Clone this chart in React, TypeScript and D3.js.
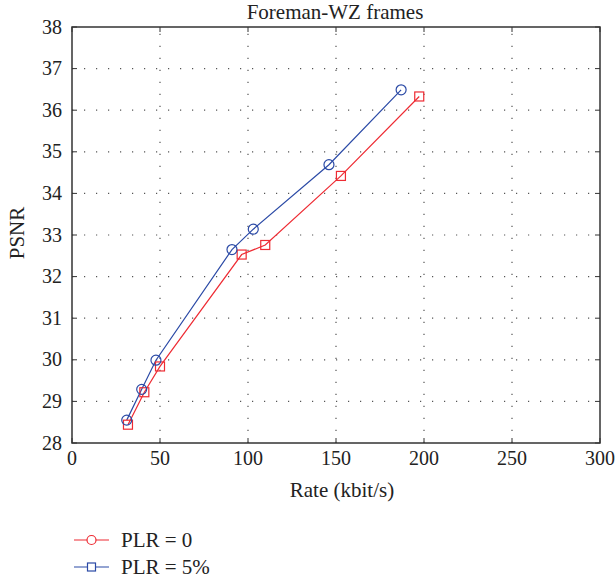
import React from "react";
import * as d3 from "d3";

const title = "Foreman-WZ frames";
const xLabel = "Rate (kbit/s)";
const yLabel = "PSNR";
const xTicks = [0, 50, 100, 150, 200, 250, 300];
const yTicks = [28, 29, 30, 31, 32, 33, 34, 35, 36, 37, 38];

// blue circles
const blueRate = [31.1, 39.6, 47.7, 90.9, 103.0, 146.0, 187.0];
const bluePsnr = [28.55, 29.29, 29.99, 32.65, 33.14, 34.69, 36.49];
// red squares
const redRate = [31.8, 41.1, 50.0, 96.4, 109.8, 152.8, 197.3];
const redPsnr = [28.44, 29.22, 29.84, 32.53, 32.76, 34.42, 36.33];

const legendLabels = ["PLR = 0", "PLR = 5%"];

const RED = "#ee2b33";
const BLUE = "#2b4aa6";
const FONT = "'Liberation Serif', serif";
const FS = 20;

export default function App() {
  const W = 616, H = 581;
  const L = 72, R = 600, T = 27, B = 443;
  const x = d3.scaleLinear().domain([0, 300]).range([L, R]);
  const y = d3.scaleLinear().domain([28, 38]).range([B, T]);
  const line = d3.line<[number, number]>().x(d => x(d[0])).y(d => y(d[1]));
  const blue: [number, number][] = blueRate.map((r, i) => [r, bluePsnr[i]]);
  const red: [number, number][] = redRate.map((r, i) => [r, redPsnr[i]]);
  const ts = { fontFamily: FONT, fontSize: FS, fill: "#222" } as React.CSSProperties;
  const tl = { fontFamily: FONT, fontSize: 21, fill: "#222" } as React.CSSProperties;

  return (
    <svg width={W} height={H} style={{ position: "absolute", left: 0, top: 0, background: "#fff", fontFamily: FONT }}>
      <rect x={0} y={0} width={W} height={H} fill="#fff" />
      {/* grid */}
      {xTicks.slice(1, -1).map(t => (
        <line key={"gx" + t} x1={x(t)} x2={x(t)} y1={B} y2={T} stroke="#555" strokeWidth={1.2} strokeDasharray="1.2,10.8" />
      ))}
      {yTicks.slice(1, -1).map(t => (
        <line key={"gy" + t} x1={L} x2={R} y1={y(t)} y2={y(t)} stroke="#555" strokeWidth={1.2} strokeDasharray="1.2,10.8" />
      ))}
      {/* ticks */}
      {xTicks.map(t => (
        <g key={"tx" + t}>
          <line x1={x(t)} x2={x(t)} y1={B} y2={B - 5} stroke="#333" strokeWidth={1} />
          <line x1={x(t)} x2={x(t)} y1={T} y2={T + 5} stroke="#333" strokeWidth={1} />
          <text x={x(t)} y={465} textAnchor="middle" style={ts}>{t}</text>
        </g>
      ))}
      {yTicks.map(t => (
        <g key={"ty" + t}>
          <line x1={L} x2={L + 5} y1={y(t)} y2={y(t)} stroke="#333" strokeWidth={1} />
          <line x1={R} x2={R - 5} y1={y(t)} y2={y(t)} stroke="#333" strokeWidth={1} />
          <text x={62} y={y(t) + 6.5} textAnchor="end" style={ts}>{t}</text>
        </g>
      ))}
      <rect x={L} y={T} width={R - L} height={B - T} fill="none" stroke="#333" strokeWidth={1.5} />
      {/* series */}
      <path d={line(red) || ""} fill="none" stroke={RED} strokeWidth={1.2} />
      <path d={line(blue) || ""} fill="none" stroke={BLUE} strokeWidth={1.2} />
      {red.map((d, i) => (
        <rect key={"r" + i} x={x(d[0]) - 4.5} y={y(d[1]) - 4.5} width={9} height={9} fill="none" stroke={RED} strokeWidth={1.2} />
      ))}
      {blue.map((d, i) => (
        <circle key={"b" + i} cx={x(d[0])} cy={y(d[1])} r={5} fill="none" stroke={BLUE} strokeWidth={1.2} />
      ))}
      {/* titles */}
      <text x={335} y={19} textAnchor="middle" style={tl}>{title}</text>
      <text x={342} y={497} textAnchor="middle" style={tl}>{xLabel}</text>
      <text transform={`translate(24,233) rotate(-90)`} textAnchor="middle" style={tl}>{yLabel}</text>
      {/* legend */}
      <g>
        <line x1={74} x2={109} y1={540} y2={540} stroke={RED} strokeWidth={1.2} />
        <circle cx={91.5} cy={540} r={4.5} fill="#fff" stroke={RED} strokeWidth={1.2} />
        <text x={121} y={547} style={tl}>{legendLabels[0]}</text>
        <line x1={74} x2={109} y1={567} y2={567} stroke={BLUE} strokeWidth={1.2} />
        <rect x={87.5} y={563} width={8} height={8} fill="#fff" stroke={BLUE} strokeWidth={1.2} />
        <text x={121} y={574} style={tl}>{legendLabels[1]}</text>
      </g>
    </svg>
  );
}
